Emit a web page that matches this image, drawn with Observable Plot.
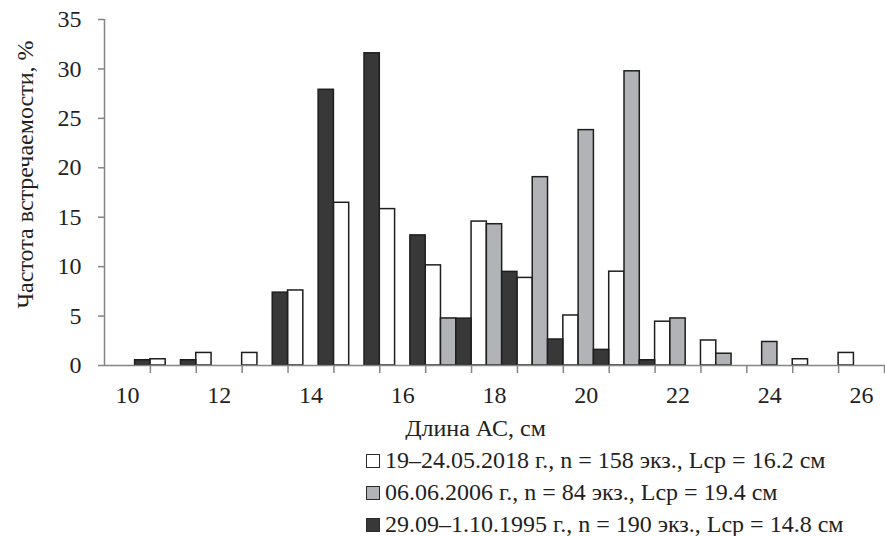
<!DOCTYPE html>
<html><head><meta charset="utf-8">
<script src="https://cdn.jsdelivr.net/npm/d3@7"></script>
<script src="https://cdn.jsdelivr.net/npm/@observablehq/plot@0.6"></script>
<style>
body{margin:0;background:#fff;font-family:"Liberation Serif","Times New Roman",Tinos,"DejaVu Serif",serif;color:#231f20;}
#chart svg{display:block;}
#legend{padding-top:4px;margin-left:366px;font-size:24px;line-height:32px;}
.row{white-space:nowrap;}
.sw{display:inline-block;width:12px;height:12px;border:1.5px solid #2a2a2a;margin-right:5px;vertical-align:0px;}
</style></head>
<body>
<div id="chart"></div>
<div id="legend"></div>
<script>
const lengths = [10,11,12,13,14,15,16,17,18,19,20,21,22,23,24,25,26];
const seriesNames = [
  "19–24.05.2018 г., n = 158 экз., Lср = 16.2 см",
  "06.06.2006 г., n = 84 экз., Lср = 19.4 см",
  "29.09–1.10.1995 г., n = 190 экз., Lср = 14.8 см"
];
const seriesColors = ["#ffffff", "#b2b3b6", "#383838"];
const v2018 = [0, 0.63, 1.27, 1.27, 7.59, 16.46, 15.82, 10.13, 14.56, 8.86, 5.06, 9.49, 4.43, 2.53, 0, 0.63, 1.27];
const v2006 = [0, 0, 0, 0, 0, 0, 0, 4.76, 14.29, 19.05, 23.81, 29.76, 4.76, 1.19, 2.38, 0, 0];
const v1995 = [0.53, 0.53, 0, 7.37, 27.89, 31.58, 13.16, 4.74, 9.47, 2.63, 1.58, 0.53, 0, 0, 0, 0, 0];
const yTicks = [0,5,10,15,20,25,30,35];
const xLabelTicks = [10,12,14,16,18,20,22,24,26];
const yLabel = "Частота встречаемости, %";
const xLabel = "Длина АС, см";

const allValues = [v2018, v2006, v1995];
const rows = [];
allValues.forEach((vals, s) => vals.forEach((v, i) => {
  if (v > 0) rows.push({len: lengths[i], s, series: seriesNames[s], v});
}));
const boundaries = lengths.map(l => l + 0.5);
const axisGray = "#858585";
const FONT = "'Liberation Serif', 'Times New Roman', Tinos, 'DejaVu Serif', serif";

const chart = Plot.plot({
  width: 885,
  height: 440,
  marginTop: 19,
  marginBottom: 75,
  marginLeft: 104,
  marginRight: 1,
  style: {fontFamily: FONT, fontSize: "24px", color: "#231f20", background: "#fff"},
  x: {type: "linear", domain: [lengths[0] - 0.5, lengths[lengths.length-1] + 0.5]},
  y: {domain: [0, 35]},
  color: {domain: seriesNames, range: seriesColors},
  marks: [
    Plot.rectY(rows, {
      x1: d => d.len - 0.5 + d.s / 3,
      x2: d => d.len - 0.5 + (d.s + 1) / 3,
      y1: 0, y2: "v",
      fill: "series",
      stroke: "#1e1e1e",
      strokeWidth: 1.5
    }),
    Plot.ruleY([0], {stroke: axisGray, strokeWidth: 1.5}),
    Plot.ruleX([lengths[0] - 0.5], {y1: 0, y2: 35, stroke: axisGray, strokeWidth: 1.5}),
    Plot.axisX(boundaries, {tickSize: 8, tickFormat: () => "", stroke: axisGray, strokeWidth: 1.5}),
    Plot.axisX(xLabelTicks, {tickSize: 0, tickPadding: 20, label: null, fontSize: 24, fontFamily: FONT, fill: "#231f20"}),
    Plot.axisY(yTicks, {tickSize: 6, tickPadding: 17, label: null, stroke: axisGray, strokeWidth: 1.5, fontSize: 24, fontFamily: FONT, fill: "#231f20"}),
    Plot.text([yLabel], {frameAnchor: "left", dx: -79, dy: -18, rotate: -90, fontSize: 24, fontFamily: FONT, fill: "#231f20", textAnchor: "middle"}),
    Plot.text([xLabel], {frameAnchor: "bottom", dx: -19, dy: 63, fontSize: 24, fontFamily: FONT, fill: "#231f20", lineAnchor: "middle"})
  ]
});
document.getElementById("chart").appendChild(chart);

const legend = document.getElementById("legend");
seriesNames.forEach((name, i) => {
  const row = document.createElement("div");
  row.className = "row";
  const sw = document.createElement("span");
  sw.className = "sw";
  sw.style.background = seriesColors[i];
  row.appendChild(sw);
  row.appendChild(document.createTextNode(name));
  legend.appendChild(row);
});
</script>
</body></html>
